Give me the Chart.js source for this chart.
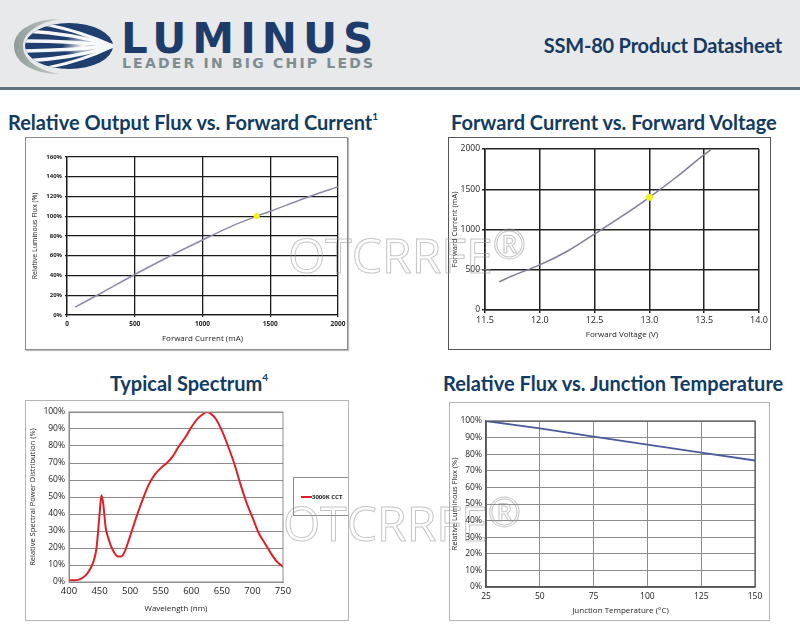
<!DOCTYPE html>
<html lang="en">
<head>
<meta charset="UTF-8">
<title>SSM-80 Product Datasheet</title>
<style>
    body { margin: 0; width: 800px; height: 632px; background: #fff; position: relative; overflow: hidden; font-family: "Open Sans", sans-serif; }
    .header { position: absolute; left: 0; top: 0; width: 800px; height: 87px; background: #e8e9ea; border-bottom: 3px solid #5f7482; }
    .brand { position: absolute; left: 121px; top: 14px; font-family: "DejaVu Sans", sans-serif; font-weight: bold; font-size: 42px; letter-spacing: 6px; color: #1d3c6c; }
    .tagline { position: absolute; left: 122px; top: 55px; font-family: "DejaVu Sans", sans-serif; font-weight: bold; font-size: 14px; letter-spacing: 2.2px; color: #7d8d92; }
    .doc { position: absolute; right: 18px; top: 33px; font-family: Lato, sans-serif; font-weight: bold; font-size: 20px; color: #163a62; letter-spacing: -0.2px; }
    .title { position: absolute; font-family: Lato, sans-serif; font-weight: bold; font-size: 20px; color: #123b63; white-space: nowrap; letter-spacing: 0; }
    .title sup { font-size: 10px; position: relative; top: -2px; }
    .box { position: absolute; box-sizing: border-box; background: #fff; }
    .box canvas { display: block; }
    .mark { position: absolute; font-family: "Open Sans", sans-serif; font-size: 48px; color: transparent; -webkit-text-stroke: 1px rgba(150,150,150,0.55); white-space: nowrap; pointer-events: none; z-index: 5; }
    .mark span { font-size: 40px; position: relative; top: -14px; }
</style>
</head>
<body>
<div class="header">
    <svg style="position:absolute;left:12px;top:16px" width="105" height="60" viewBox="0 0 105 60">
        <defs>
            <clipPath id="eye"><ellipse cx="57" cy="30" rx="44" ry="23"/></clipPath>
            <linearGradient id="arc" x1="0" y1="0" x2="1" y2="0">
                <stop offset="0" stop-color="#8e9c98"/><stop offset="1" stop-color="#c6ccc8"/>
            </linearGradient>
            <radialGradient id="glow" cx="0.68" cy="0.5" r="0.2">
                <stop offset="0" stop-color="#fff"/><stop offset="1" stop-color="#fff" stop-opacity="0"/>
            </radialGradient>
        </defs>
        <path d="M48 3 C20 3 2 15 2 30 C2 46 20 58 48 58 C28 55 11 45 11 30 C11 16 28 6 48 3 Z" fill="url(#arc)"/>
        <ellipse cx="57" cy="30" rx="44" ry="23" fill="#1f3f70"/>
        <g clip-path="url(#eye)" stroke="#f4f6f8" fill="none">
            <path d="M101 30 Q60 11 12 5" stroke-width="3"/>
            <path d="M101 30 Q60 17 12 15" stroke-width="3.5"/>
            <path d="M101 30 Q60 25 12 25" stroke-width="3.5"/>
            <path d="M101 30 Q60 34 12 35" stroke-width="3.5"/>
            <path d="M101 30 Q60 43 12 45" stroke-width="3.5"/>
            <path d="M101 30 Q60 50 12 55" stroke-width="3"/>
            <rect x="0" y="0" width="105" height="60" fill="url(#glow)" stroke="none"/>
        </g>
    </svg>
    <div class="brand">LUMINUS</div>
    <div class="tagline">LEADER IN BIG CHIP LEDS</div>
    <div class="doc">SSM-80 Product Datasheet</div>
</div>

<div class="title" style="left:8px;top:110px">Relative Output Flux vs. Forward Current<sup>1</sup></div>
<div class="title" style="left:451px;top:110px">Forward Current vs. Forward Voltage</div>
<div class="title" style="left:110px;top:371px">Typical Spectrum<sup>4</sup></div>
<div class="title" style="left:443px;top:371px">Relative Flux vs. Junction Temperature</div>

<div class="box" style="left:25px;top:137px;width:323px;height:213px;border:1px solid #8a8a8a;box-shadow:1px 1px 1px #bbb"><canvas id="c1"></canvas></div>
<div class="box" style="left:448px;top:137px;width:323px;height:213px;border:1.5px solid #555"><canvas id="c2"></canvas></div>
<div class="box" style="left:25px;top:400px;width:324px;height:221px;border:1px solid #b4b4b4"><canvas id="c3"></canvas></div>
<div class="box" style="left:449px;top:402px;width:321px;height:219px;border:1px solid #b4b4b4"><canvas id="c4"></canvas></div>

<div class="mark" style="left:288px;top:222px">OTCRRFE<span>®</span></div>
<div class="mark" style="left:283px;top:490px">OTCRRFE<span>®</span></div>

<script src="https://cdn.jsdelivr.net/npm/chart.js"></script>
<script>
// Relative output flux vs forward current
const fluxCurrent = [60, 250, 500, 750, 1000, 1250, 1400, 1500, 1750, 2000];
const fluxRel = [8, 22, 41, 59, 76, 92, 100, 105, 118, 130];
const fluxMarker = [1400, 100];

// Forward current vs forward voltage
const fwdVoltage = [11.63, 11.75, 12.0, 12.25, 12.5, 12.75, 13.0, 13.25, 13.5, 13.57];
const fwdCurrent = [350, 425, 560, 730, 945, 1165, 1400, 1655, 1930, 2000];
const fwdMarker = [13.0, 1400];

// Typical spectrum, 3000K CCT
const wavelength = [400, 410, 420, 430, 440, 445, 450, 453, 456, 460, 465, 470, 480, 485, 490, 500, 510, 520, 530, 540,
    550, 560, 570, 580, 590, 600, 610, 620, 625, 630, 640, 650, 660, 670, 680, 690, 700, 710, 720, 730, 740, 750];
const spectrum = [1, 1, 2, 5, 12, 20, 40, 51, 46, 32, 25, 20, 15, 15, 17, 27, 38, 48, 57, 63,
    67, 70, 74, 80, 85, 91, 96, 99, 100, 99.5, 96, 89, 80, 70, 58, 47, 38, 29, 23, 17, 12, 9];
const spectrumLabel = '3000K CCT';

// Relative flux vs junction temperature
const junctionTemp = [25, 50, 75, 100, 125, 150];
const tempFlux = [100, 95.5, 90.6, 85.8, 81, 76.2];

const pts = (xs, ys) => xs.map((x, i) => ({x: x, y: ys[i]}));
const pct = v => v + '%';
const plain = v => String(v);

Chart.register({
    id: 'frame',
    afterDraw(chart, args, opts) {
        if (!opts || !opts.color) return;
        const a = chart.chartArea, ctx = chart.ctx;
        ctx.save();
        ctx.strokeStyle = opts.color;
        ctx.lineWidth = opts.width || 1;
        ctx.strokeRect(a.left, a.top, a.right - a.left, a.bottom - a.top);
        ctx.restore();
    }
});

// fixed axis sizes so the plot areas land where they should
function fixX(h) {
    return s => { s.height = h; s.paddingLeft = 0; s.paddingRight = 0; };
}
function fixY(w) {
    return s => { s.width = w; s.paddingTop = 0; s.paddingBottom = 0; };
}

function baseOptions(pad) {
    return {
        responsive: true,
        maintainAspectRatio: false,
        animation: false,
        layout: {padding: pad},
        plugins: {legend: {display: false}, tooltip: {enabled: false}},
        elements: {point: {radius: 0}}
    };
}

Chart.defaults.font.family = '"Open Sans", sans-serif';
Chart.defaults.color = '#222';

// chart 1
const o1 = baseOptions({left: 0, right: 9, top: 19, bottom: 0});
o1.scales = {
    x: {type: 'linear', min: 0, max: 2000,
        ticks: {stepSize: 500, callback: plain, font: {size: 6.5, weight: 'bold'}, padding: 3},
        grid: {color: '#1a1a1a', lineWidth: 1.3, tickLength: 2},
        border: {color: '#1a1a1a', width: 1.3},
        title: {display: true, text: 'Forward Current (mA)', font: {size: 8}, padding: {top: 0, bottom: 5}},
        afterFit: fixX(34)},
    y: {min: 0, max: 160,
        ticks: {stepSize: 20, callback: pct, font: {size: 6, weight: 'bold'}, padding: 3},
        grid: {color: '#1a1a1a', lineWidth: 1.3, tickLength: 2},
        border: {color: '#1a1a1a', width: 1.3},
        title: {display: true, text: 'Relative Luminous Flux (%)', font: {size: 7}, padding: {top: 5, bottom: 0}},
        afterFit: fixY(41)}
};
new Chart(document.getElementById('c1'), {
    type: 'line',
    data: {datasets: [
        {data: [{x: fluxMarker[0], y: fluxMarker[1]}], pointRadius: 3, pointBackgroundColor: '#f2f01e', pointBorderWidth: 0, showLine: false},
        {data: pts(fluxCurrent, fluxRel), borderColor: '#8d8aa8', borderWidth: 1.5, cubicInterpolationMode: 'monotone'}
    ]},
    options: o1
});

// chart 2
const o2 = baseOptions({left: 0, right: 11, top: 11, bottom: 0});
o2.scales = {
    x: {type: 'linear', min: 11.5, max: 14,
        ticks: {stepSize: 0.5, callback: v => v.toFixed(1), font: {size: 9}, padding: 2},
        grid: {color: '#222', lineWidth: 1.5, tickLength: 3},
        border: {color: '#222', width: 1.5},
        title: {display: true, text: 'Forward Voltage (V)', font: {size: 8}, padding: {top: 0, bottom: 9}},
        afterFit: fixX(39)},
    y: {min: 0, max: 2000,
        ticks: {stepSize: 500, callback: plain, font: {size: 8.5}, padding: 2},
        grid: {color: '#222', lineWidth: 1.5, tickLength: 3},
        border: {color: '#222', width: 1.5},
        title: {display: true, text: 'Forward Current (mA)', font: {size: 7.5}, padding: {top: 1, bottom: 0}},
        afterFit: fixY(36)}
};
new Chart(document.getElementById('c2'), {
    type: 'line',
    data: {datasets: [
        {data: [{x: fwdMarker[0], y: fwdMarker[1]}], pointRadius: 3.5, pointBackgroundColor: '#f2f01e', pointBorderWidth: 0, showLine: false},
        {data: pts(fwdVoltage, fwdCurrent), borderColor: '#7f7d98', borderWidth: 1.5, cubicInterpolationMode: 'monotone'}
    ]},
    options: o2
});

// chart 3
const o3 = baseOptions({left: 0, right: 65, top: 11, bottom: 0});
o3.plugins.frame = {color: '#8c8c8c', width: 1};
o3.scales = {
    x: {type: 'linear', min: 400, max: 750,
        ticks: {stepSize: 50, font: {size: 9.5}, padding: 4},
        grid: {display: false, drawTicks: false},
        border: {color: '#8c8c8c'},
        title: {display: true, text: 'Wavelength (nm)', font: {size: 8}, padding: {top: 0, bottom: 6}},
        afterFit: fixX(38)},
    y: {min: 0, max: 100,
        ticks: {stepSize: 10, callback: pct, font: {size: 8.5}, padding: 4},
        grid: {color: '#8c8c8c', lineWidth: 1, drawTicks: false},
        border: {color: '#8c8c8c'},
        title: {display: true, text: 'Relative Spectral Power Distribution (%)', font: {size: 7.5}, padding: {top: 2, bottom: 0}},
        afterFit: fixY(43)}
};
new Chart(document.getElementById('c3'), {
    type: 'line',
    data: {datasets: [
        {label: spectrumLabel, data: pts(wavelength, spectrum), borderColor: '#de2026', borderWidth: 2, cubicInterpolationMode: 'monotone'}
    ]},
    options: o3,
    plugins: [{
        id: 'boxLegend',
        afterDraw(chart) {
            const a = chart.chartArea, ctx = chart.ctx;
            const ds = chart.data.datasets[0];
            const cy = (a.top + a.bottom) / 2;
            const x0 = a.right + 10;
            ctx.save();
            ctx.strokeStyle = '#8c8c8c';
            ctx.lineWidth = 1;
            ctx.strokeRect(x0 + 0.5, cy - 19.5, 55, 38);
            ctx.strokeStyle = ds.borderColor;
            ctx.lineWidth = 2;
            ctx.beginPath();
            ctx.moveTo(x0 + 8, cy);
            ctx.lineTo(x0 + 19, cy);
            ctx.stroke();
            ctx.fillStyle = '#222';
            ctx.font = 'bold 6px "Open Sans", sans-serif';
            ctx.textBaseline = 'middle';
            ctx.fillText(ds.label, x0 + 19, cy);
            ctx.restore();
        }
    }]
});

// chart 4
const o4 = baseOptions({left: 0, right: 14, top: 18, bottom: 0});
o4.plugins.frame = {color: '#555', width: 1.2};
o4.scales = {
    x: {type: 'linear', min: 25, max: 150,
        ticks: {stepSize: 25, font: {size: 8.5}, padding: 4},
        grid: {color: '#8c8c8c', lineWidth: 1, drawTicks: false},
        border: {color: '#555', width: 1.2},
        title: {display: true, text: 'Junction Temperature (\u00b0C)', font: {size: 8}, padding: {top: 0, bottom: 4}},
        afterFit: fixX(33)},
    y: {min: 0, max: 100,
        ticks: {stepSize: 10, callback: pct, font: {size: 8.5}, padding: 4},
        grid: {color: '#8c8c8c', lineWidth: 1, drawTicks: false},
        border: {color: '#555', width: 1.2},
        title: {display: true, text: 'Relative Luminous Flux (%)', font: {size: 7.5}, padding: {top: 0, bottom: 0}},
        afterFit: fixY(36)}
};
new Chart(document.getElementById('c4'), {
    type: 'line',
    data: {datasets: [
        {data: pts(junctionTemp, tempFlux), borderColor: '#4a5a9e', borderWidth: 1.8}
    ]},
    options: o4
});
</script>
</body>
</html>
